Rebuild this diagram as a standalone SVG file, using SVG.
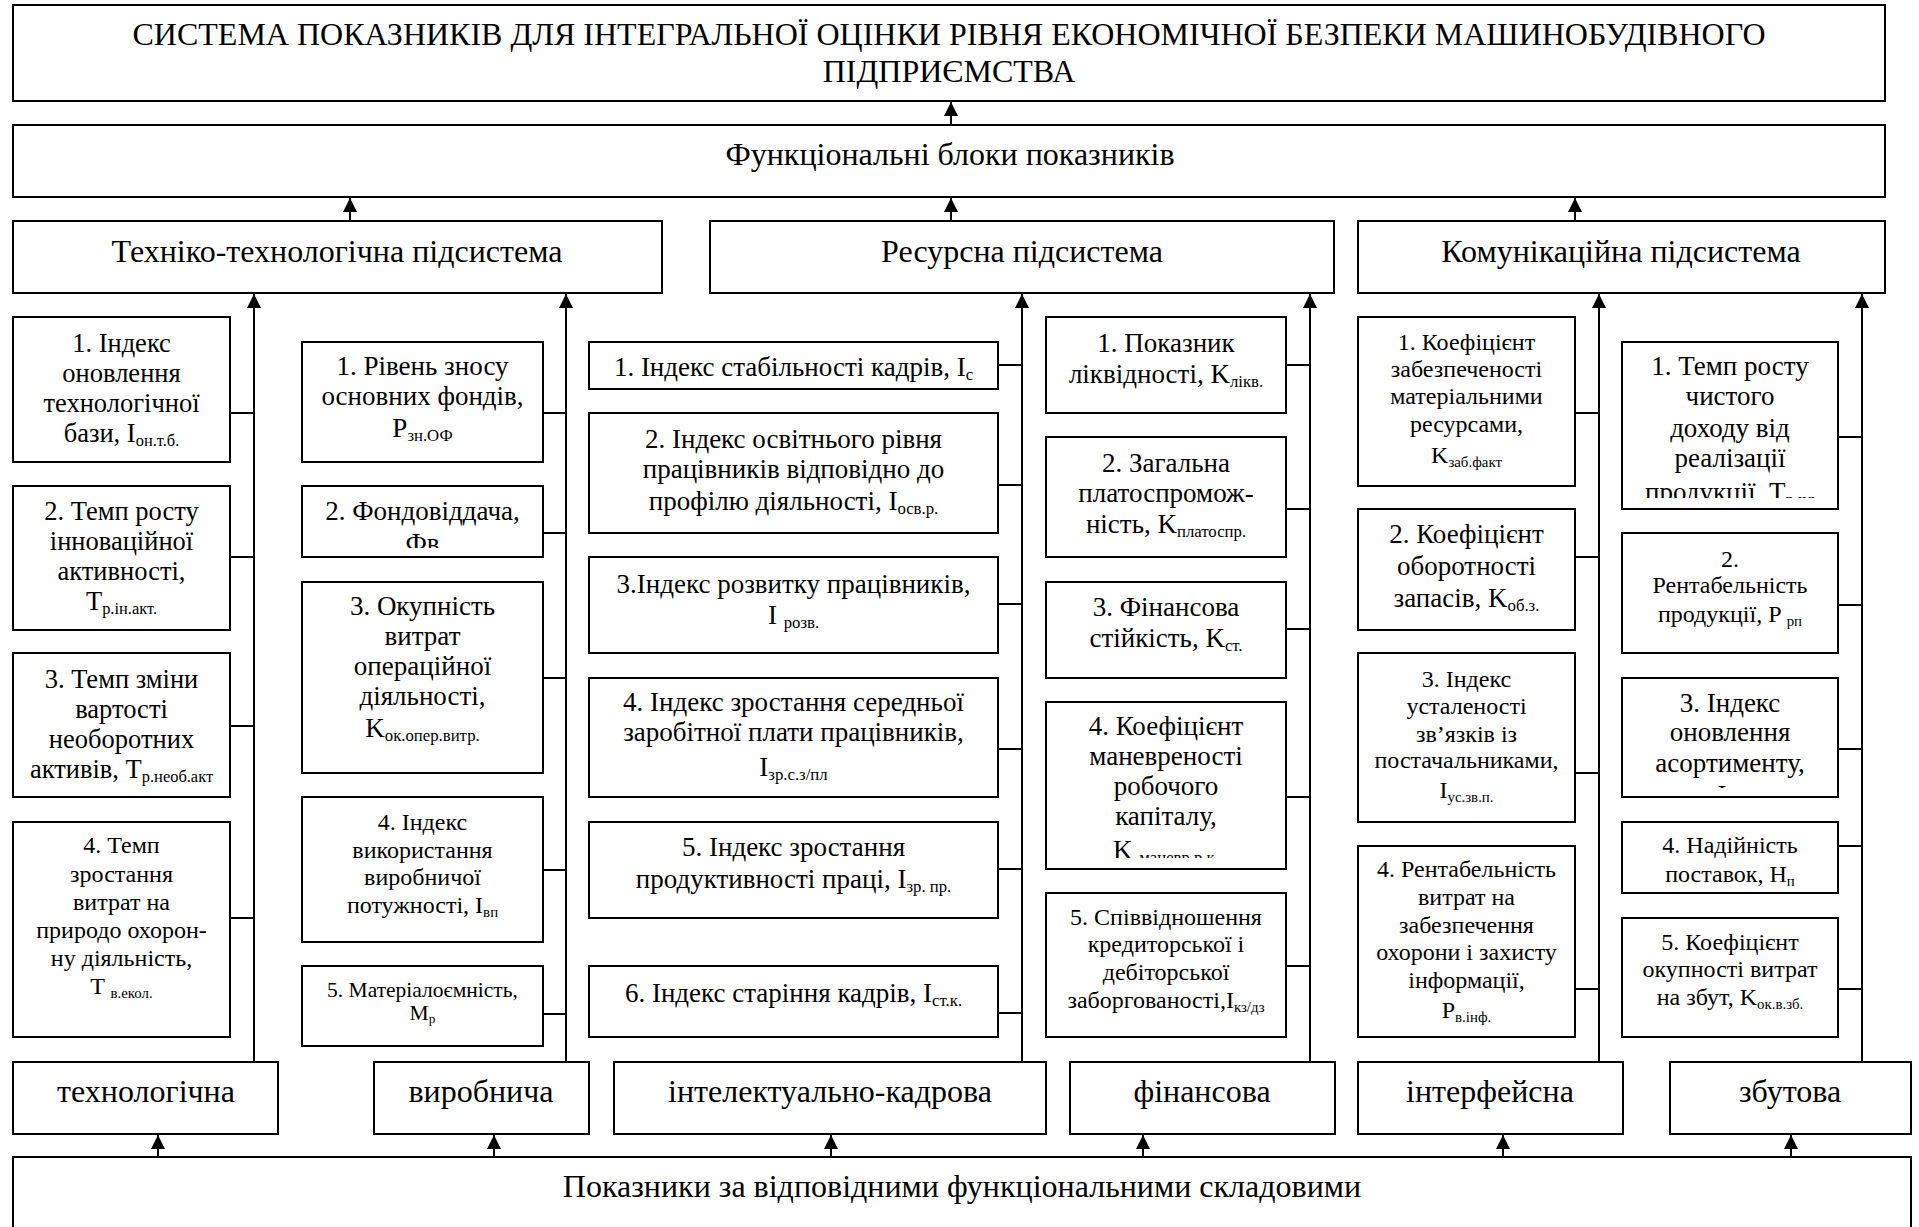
<svg xmlns="http://www.w3.org/2000/svg" width="1919" height="1227" viewBox="0 0 1919 1227">
<defs>
<style>
.box{fill:#fff;stroke:#000;stroke-width:2}
.t{font-family:"Liberation Serif","Times New Roman",serif;fill:#000;text-anchor:middle}
.f30{font-size:32px}.f26{font-size:27px}.f26a{font-size:26.5px}.f23{font-size:24px}.f20{font-size:21.5px}
.sb{font-size:62%}
.ln{stroke:#000;stroke-width:2;fill:none}
.ar{stroke:#000;stroke-width:2;fill:none;marker-end:url(#ah)}
</style>
<marker id="ah" viewBox="0 0 14 14" refX="14" refY="7" markerWidth="14" markerHeight="14" markerUnits="userSpaceOnUse" orient="auto"><path d="M0,0 L14,7 L0,14 z" fill="#000"/></marker>
<clipPath id="c22"><rect x="302" y="486" width="241" height="62"/></clipPath>
<clipPath id="c44"><rect x="1046" y="702" width="240" height="156"/></clipPath>
<clipPath id="c61"><rect x="1622" y="342" width="216" height="156"/></clipPath>
<clipPath id="c63"><rect x="1622" y="678" width="216" height="110"/></clipPath>
</defs>

<g id="title"><rect class="box" x="13" y="5" width="1872" height="96"/>
<text class="t f30" x="949" y="45">СИСТЕМА ПОКАЗНИКІВ ДЛЯ ІНТЕГРАЛЬНОЇ ОЦІНКИ РІВНЯ ЕКОНОМІЧНОЇ БЕЗПЕКИ МАШИНОБУДІВНОГО</text>
<text class="t f30" x="949" y="82">ПІДПРИЄМСТВА</text></g>

<g id="blocks"><rect class="box" x="13" y="125" width="1872" height="72"/>
<text class="t f30" x="950" y="165">Функціональні блоки показників</text></g>

<g id="sub-tech"><rect class="box" x="13" y="221" width="649" height="72"/><text class="t f30" x="337" y="262">Техніко-технологічна підсистема</text></g>
<g id="sub-res"><rect class="box" x="710" y="221" width="624" height="72"/><text class="t f30" x="1022" y="262">Ресурсна підсистема</text></g>
<g id="sub-com"><rect class="box" x="1358" y="221" width="527" height="72"/><text class="t f30" x="1621" y="262">Комунікаційна підсистема</text></g>

<!-- column 1 -->
<g id="c1b1"><rect class="box" x="13" y="317" width="217" height="145"/>
<text class="t f26a" x="121.5" y="352">1. Індекс</text><text class="t f26a" x="121.5" y="382">оновлення</text><text class="t f26a" x="121.5" y="412">технологічної</text><text class="t f26a" x="121.5" y="442">бази, I<tspan class="sb" dy="4">он.т.б.</tspan></text></g>
<g id="c1b2"><rect class="box" x="13" y="486" width="217" height="144"/>
<text class="t f26a" x="121.5" y="520">2. Темп росту</text><text class="t f26a" x="121.5" y="550">інноваційної</text><text class="t f26a" x="121.5" y="580">активності,</text><text class="t f26a" x="121.5" y="610">T<tspan class="sb" dy="4">р.ін.акт.</tspan></text></g>
<g id="c1b3"><rect class="box" x="13" y="653" width="217" height="144"/>
<text class="t f26a" x="121.5" y="688">3. Темп зміни</text><text class="t f26a" x="121.5" y="718">вартості</text><text class="t f26a" x="121.5" y="748">необоротних</text><text class="t f26a" x="121.5" y="778">активів, T<tspan class="sb" dy="4">р.необ.акт</tspan></text></g>
<g id="c1b4"><rect class="box" x="13" y="822" width="217" height="215"/>
<text class="t f23" x="121.5" y="853">4. Темп</text><text class="t f23" x="121.5" y="882">зростання</text><text class="t f23" x="121.5" y="910">витрат на</text><text class="t f23" x="121.5" y="938">природо охорон-</text><text class="t f23" x="121.5" y="966">ну діяльність,</text><text class="t f23" x="121.5" y="994">T <tspan class="sb" dy="4">в.екол.</tspan></text></g>

<!-- column 2 -->
<g id="c2b1"><rect class="box" x="302" y="342" width="241" height="120"/>
<text class="t f26" x="422.5" y="375">1. Рівень зносу</text><text class="t f26" x="422.5" y="405">основних фондів,</text><text class="t f26" x="422.5" y="437">P<tspan class="sb" dy="4">зн.ОФ</tspan></text></g>
<g id="c2b2"><rect class="box" x="302" y="486" width="241" height="71"/>
<text class="t f26" x="422.5" y="520">2. Фондовіддача,</text><text class="t f26" x="422.5" y="552" clip-path="url(#c22)">Фв</text></g>
<g id="c2b3"><rect class="box" x="302" y="582" width="241" height="191"/>
<text class="t f26" x="422.5" y="615">3. Окупність</text><text class="t f26" x="422.5" y="645">витрат</text><text class="t f26" x="422.5" y="675">операційної</text><text class="t f26" x="422.5" y="705">діяльності,</text><text class="t f26" x="422.5" y="737">K<tspan class="sb" dy="4">ок.опер.витр.</tspan></text></g>
<g id="c2b4"><rect class="box" x="302" y="797" width="241" height="145"/>
<text class="t f23" x="422.5" y="830">4. Індекс</text><text class="t f23" x="422.5" y="858">використання</text><text class="t f23" x="422.5" y="885">виробничої</text><text class="t f23" x="422.5" y="913">потужності, I<tspan class="sb" dy="4">вп</tspan></text></g>
<g id="c2b5"><rect class="box" x="302" y="966" width="241" height="80"/>
<text class="t f20" x="422.5" y="997">5. Матеріалоємність,</text><text class="t f20" x="422.5" y="1020">M<tspan class="sb" dy="3">р</tspan></text></g>

<!-- column 3 -->
<g id="c3b1"><rect class="box" x="589" y="342" width="409" height="47"/>
<text class="t f26" x="793.5" y="376">1. Індекс стабільності кадрів, I<tspan class="sb" dy="4">с</tspan></text></g>
<g id="c3b2"><rect class="box" x="589" y="413" width="409" height="120"/>
<text class="t f26" x="793.5" y="448">2. Індекс освітнього рівня</text><text class="t f26" x="793.5" y="478">працівників відповідно до</text><text class="t f26" x="793.5" y="510">профілю діяльності, I<tspan class="sb" dy="4">осв.р.</tspan></text></g>
<g id="c3b3"><rect class="box" x="589" y="557" width="409" height="96"/>
<text class="t f26" x="793.5" y="593">3.Індекс розвитку працівників,</text><text class="t f26" x="793.5" y="624">I <tspan class="sb" dy="4">розв.</tspan></text></g>
<g id="c3b4"><rect class="box" x="589" y="678" width="409" height="119"/>
<text class="t f26" x="793.5" y="711">4. Індекс зростання середньої</text><text class="t f26" x="793.5" y="741">заробітної плати працівників,</text><text class="t f26" x="793.5" y="776">I<tspan class="sb" dy="4">зр.с.з/пл</tspan></text></g>
<g id="c3b5"><rect class="box" x="589" y="822" width="409" height="96"/>
<text class="t f26" x="793.5" y="856">5. Індекс зростання</text><text class="t f26" x="793.5" y="888">продуктивності праці, I<tspan class="sb" dy="4">зр. пр.</tspan></text></g>
<g id="c3b6"><rect class="box" x="589" y="966" width="409" height="71"/>
<text class="t f26" x="793.5" y="1002">6. Індекс старіння кадрів, I<tspan class="sb" dy="4">ст.к.</tspan></text></g>

<!-- column 4 -->
<g id="c4b1"><rect class="box" x="1046" y="317" width="240" height="96"/>
<text class="t f26" x="1166" y="352">1. Показник</text><text class="t f26" x="1166" y="383">ліквідності, K<tspan class="sb" dy="4">лікв.</tspan></text></g>
<g id="c4b2"><rect class="box" x="1046" y="437" width="240" height="120"/>
<text class="t f26" x="1166" y="472">2. Загальна</text><text class="t f26" x="1166" y="502">платоспромож-</text><text class="t f26" x="1166" y="533">ність, K<tspan class="sb" dy="4">платоспр.</tspan></text></g>
<g id="c4b3"><rect class="box" x="1046" y="582" width="240" height="96"/>
<text class="t f26" x="1166" y="616">3. Фінансова</text><text class="t f26" x="1166" y="647">стійкість, K<tspan class="sb" dy="4">ст.</tspan></text></g>
<g id="c4b4"><rect class="box" x="1046" y="702" width="240" height="167"/>
<text class="t f26" x="1166" y="735">4. Коефіцієнт</text><text class="t f26" x="1166" y="765">маневреності</text><text class="t f26" x="1166" y="795">робочого</text><text class="t f26" x="1166" y="825">капіталу,</text><text class="t f26" x="1166" y="859" clip-path="url(#c44)">K <tspan class="sb" dy="4">маневр.р.к.</tspan></text></g>
<g id="c4b5"><rect class="box" x="1046" y="893" width="240" height="144"/>
<text class="t f23" x="1166" y="925">5. Співвідношення</text><text class="t f23" x="1166" y="952">кредиторської і</text><text class="t f23" x="1166" y="980">дебіторської</text><text class="t f23" x="1166" y="1008">заборгованості,I<tspan class="sb" dy="4">кз/дз</tspan></text></g>

<!-- column 5 -->
<g id="c5b1"><rect class="box" x="1358" y="317" width="217" height="169"/>
<text class="t f23" x="1466.5" y="350">1. Коефіцієнт</text><text class="t f23" x="1466.5" y="377">забезпеченості</text><text class="t f23" x="1466.5" y="404">матеріальними</text><text class="t f23" x="1466.5" y="432">ресурсами,</text><text class="t f23" x="1466.5" y="463">K<tspan class="sb" dy="4">заб.факт</tspan></text></g>
<g id="c5b2"><rect class="box" x="1358" y="509" width="217" height="121"/>
<text class="t f26" x="1466.5" y="543">2. Коефіцієнт</text><text class="t f26" x="1466.5" y="575">оборотності</text><text class="t f26" x="1466.5" y="607">запасів, K<tspan class="sb" dy="4">об.з.</tspan></text></g>
<g id="c5b3"><rect class="box" x="1358" y="653" width="217" height="169"/>
<text class="t f23" x="1466.5" y="687">3. Індекс</text><text class="t f23" x="1466.5" y="714">усталеності</text><text class="t f23" x="1466.5" y="742">зв’язків із</text><text class="t f23" x="1466.5" y="768">постачальниками,</text><text class="t f23" x="1466.5" y="798">I<tspan class="sb" dy="4">ус.зв.п.</tspan></text></g>
<g id="c5b4"><rect class="box" x="1358" y="846" width="217" height="191"/>
<text class="t f23" x="1466.5" y="877">4. Рентабельність</text><text class="t f23" x="1466.5" y="905">витрат на</text><text class="t f23" x="1466.5" y="933">забезпечення</text><text class="t f23" x="1466.5" y="960">охорони і захисту</text><text class="t f23" x="1466.5" y="988">інформації,</text><text class="t f23" x="1466.5" y="1018">P<tspan class="sb" dy="4">в.інф.</tspan></text></g>

<!-- column 6 -->
<g id="c6b1"><rect class="box" x="1622" y="342" width="216" height="167"/>
<text class="t f26" x="1730" y="375">1. Темп росту</text><text class="t f26" x="1730" y="405">чистого</text><text class="t f26" x="1730" y="437">доходу від</text><text class="t f26" x="1730" y="467">реалізації</text><text class="t f26" x="1730" y="501" clip-path="url(#c61)">продукції, T<tspan class="sb" dy="4">р.чд</tspan></text></g>
<g id="c6b2"><rect class="box" x="1622" y="533" width="216" height="120"/>
<text class="t f23" x="1730" y="567">2.</text><text class="t f23" x="1730" y="593">Рентабельність</text><text class="t f23" x="1730" y="622">продукції, P <tspan class="sb" dy="4">рп</tspan></text></g>
<g id="c6b3"><rect class="box" x="1622" y="678" width="216" height="119"/>
<text class="t f26" x="1730" y="712">3. Індекс</text><text class="t f26" x="1730" y="741">оновлення</text><text class="t f26" x="1730" y="772">асортименту,</text><text class="t f26" x="1722" y="804" clip-path="url(#c63)">I</text></g>
<g id="c6b4"><rect class="box" x="1622" y="822" width="216" height="71"/>
<text class="t f23" x="1730" y="853">4. Надійність</text><text class="t f23" x="1730" y="882">поставок, H<tspan class="sb" dy="4">п</tspan></text></g>
<g id="c6b5"><rect class="box" x="1622" y="918" width="216" height="119"/>
<text class="t f23" x="1730" y="950">5. Коефіцієнт</text><text class="t f23" x="1730" y="977">окупності витрат</text><text class="t f23" x="1730" y="1005">на збут, K<tspan class="sb" dy="4">ок.в.зб.</tspan></text></g>

<!-- functional components -->
<g id="k-tech"><rect class="box" x="13" y="1062" width="265" height="72"/><text class="t f30" x="146" y="1102">технологічна</text></g>
<g id="k-vyr"><rect class="box" x="374" y="1062" width="215" height="72"/><text class="t f30" x="481" y="1102">виробнича</text></g>
<g id="k-int"><rect class="box" x="614" y="1062" width="432" height="72"/><text class="t f30" x="830" y="1102">інтелектуально-кадрова</text></g>
<g id="k-fin"><rect class="box" x="1070" y="1062" width="265" height="72"/><text class="t f30" x="1202" y="1102">фінансова</text></g>
<g id="k-intf"><rect class="box" x="1358" y="1062" width="265" height="72"/><text class="t f30" x="1490" y="1102">інтерфейсна</text></g>
<g id="k-zb"><rect class="box" x="1670" y="1062" width="241" height="72"/><text class="t f30" x="1790" y="1102">збутова</text></g>

<g id="bottom"><rect class="box" x="13" y="1157" width="1898" height="100"/>
<text class="t f30" x="962" y="1197">Показники за відповідними функціональними складовими</text></g>

<g id="connectors">
<line class="ar" x1="951" y1="125" x2="951" y2="102"/>
<line class="ar" x1="350" y1="221" x2="350" y2="198"/>
<line class="ar" x1="951" y1="221" x2="951" y2="198"/>
<line class="ar" x1="1575" y1="221" x2="1575" y2="198"/>
<line class="ar" x1="254" y1="1062" x2="254" y2="294"/>
<line class="ar" x1="566" y1="1062" x2="566" y2="294"/>
<line class="ar" x1="1022" y1="1062" x2="1022" y2="294"/>
<line class="ar" x1="1310" y1="1062" x2="1310" y2="294"/>
<line class="ar" x1="1599" y1="1062" x2="1599" y2="294"/>
<line class="ar" x1="1862" y1="1062" x2="1862" y2="294"/>
<line class="ar" x1="158" y1="1157" x2="158" y2="1135"/>
<line class="ar" x1="494" y1="1157" x2="494" y2="1135"/>
<line class="ar" x1="831" y1="1157" x2="831" y2="1135"/>
<line class="ar" x1="1143" y1="1157" x2="1143" y2="1135"/>
<line class="ar" x1="1503" y1="1157" x2="1503" y2="1135"/>
<line class="ar" x1="1791" y1="1157" x2="1791" y2="1135"/>
<path class="ln" d="M230,413H254M230,557H254M230,726H254M230,918H254"/>
<path class="ln" d="M543,413H566M543,533H566M543,678H566M543,870H566M543,1014H566"/>
<path class="ln" d="M998,365H1022M998,485H1022M998,604H1022M998,749H1022M998,869H1022M998,1013H1022"/>
<path class="ln" d="M1286,365H1310M1286,509H1310M1286,629H1310M1286,797H1310M1286,966H1310"/>
<path class="ln" d="M1575,413H1599M1575,557H1599M1575,773H1599M1575,989H1599"/>
<path class="ln" d="M1838,437H1862M1838,605H1862M1838,749H1862M1838,846H1862M1838,989H1862"/>
</g>
</svg>
